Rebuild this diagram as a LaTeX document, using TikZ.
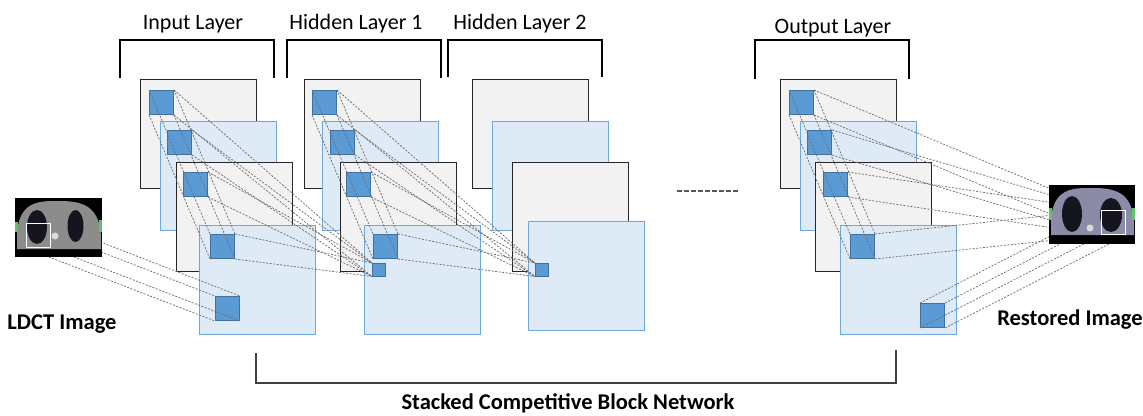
\documentclass[tikz,border=0pt]{standalone}
\usepackage{fontspec}
\setmainfont{Carlito}
\usetikzlibrary{positioning}
\definecolor{panelgray}{HTML}{F2F2F2}
\definecolor{panelblue}{HTML}{DEEBF7}
\definecolor{edgeblue}{HTML}{6FA8DC}
\definecolor{cellfill}{HTML}{5B9BD5}
\definecolor{celledge}{HTML}{41719C}
\definecolor{linkgray}{HTML}{6E6E6E}
\definecolor{ctgray}{HTML}{8C8C8C}
\definecolor{ctblue}{HTML}{8A8BA6}
\definecolor{ctlung}{HTML}{15151F}
\definecolor{ctgreen}{HTML}{5CC46A}
\pgfdeclarelayer{front}
\pgfsetlayers{main,front}
\tikzset{
  gpanel/.style={draw=black!85, line width=1.2pt, fill=panelgray, minimum width=116pt, minimum height=109pt, inner sep=0pt, anchor=north west},
  bpanel/.style={gpanel, draw=edgeblue},
  bpanel/.append style={fill=panelblue},
  cell/.style={draw=celledge, line width=1pt, fill=cellfill, minimum size=24pt, inner sep=0pt, anchor=north west},
  smallcell/.style={cell, minimum size=12.5pt},
  link/.style={draw=linkgray, line width=0.75pt, dash pattern=on 2pt off 1.5pt},
  bracket/.style={line width=2pt},
  layertext/.style={font=\fontsize{22}{26}\selectfont, anchor=base, inner sep=0pt},
  boldtext/.style={font=\fontsize{22.5}{26}\selectfont\bfseries, anchor=base, inner sep=0pt},
  scanbox/.style={draw=white, line width=1.2pt, inner sep=0pt, anchor=north west, minimum size=24pt},
}
\begin{document}
\begin{tikzpicture}[x=1pt, y=-1pt]
  \useasboundingbox (0,0) rectangle (1143,415);

  % layer titles and brackets
  \node[layertext] (in-title) at (193,29) {Input Layer};
  \node[layertext] (ha-title) at (356,29) {Hidden Layer 1};
  \node[layertext] (hb-title) at (520,29) {Hidden Layer 2};
  \node[layertext] (out-title) at (833,33) {Output Layer};
  \draw[bracket] (120,78) -- (120,40) -- (274,40) -- (274,78);
  \draw[bracket] (287,78) -- (287,40) -- (441,40) -- (441,78);
  \draw[bracket] (448,77) -- (448,40) -- (602,40) -- (602,77);
  \draw[bracket] (755,79) -- (755,40) -- (909,40) -- (909,79);

  % feature maps
  \foreach \L/\a/\b/\c/\d/\e in {in/140/160/176/199/225, ha/304/322/340/364/225, hb/472/492/512/528/221, out/780/800/815/840/225}{
    \node[gpanel] (\L-p1) at (\a,79) {};
    \node[bpanel] (\L-p2) at (\b,121) {};
    \node[gpanel] (\L-p3) at (\c,162) {};
    \node[bpanel] (\L-p4) at (\d,\e) {};
  }

  % receptive fields
  \foreach \L/\a/\b/\c/\d in {in/149/167/183/210, ha/312/330/346/373, out/789/807/823/850}{
    \node[cell] (\L-c1) at (\a,90) {};
    \node[cell] (\L-c2) at (\b,130) {};
    \node[cell] (\L-c3) at (\c,172) {};
    \node[cell] (\L-c4) at (\d,234) {};
  }
  \node[cell] (in-c5) at (215,296) {};
  \node[cell] (out-c5) at (920,303) {};
  \node[smallcell] (ha-t) at (372,263) {};
  \node[smallcell] (hb-t) at (535,263) {};

  \draw[dash pattern=on 5pt off 2pt, line width=2pt, black!65] (677,191) -- (739,191);

  % CT slices
  \begin{pgfonlayer}{front}
    \node[fill=black, minimum width=87pt, minimum height=59pt, inner sep=0pt, anchor=north west] (ldct) at (15,198) {};
    \fill[ctgray] (17,238) .. controls (17,200) and (40,201) .. (59,201) .. controls (80,201) and (101,204) .. (101,240) -- (101,249) -- (17,249) -- cycle;
    \fill[ctgreen] (15,222) rectangle (18,232);
    \fill[ctgreen] (99,220) rectangle (102,232);
    \fill[ctlung] (37,227) ellipse (10 and 17);
    \fill[ctlung] (75.5,226) ellipse (8 and 16);
    \fill[white!85!black] (55,236) circle (3.5);
    \fill[black] (15,250) rectangle (102,257);
    \node[scanbox] (ldct-box) at (26,223) {};

    \node[fill=black, minimum width=86pt, minimum height=59pt, inner sep=0pt, anchor=north west] (rest) at (1049,185) {};
    \fill[ctblue] (1051,224) .. controls (1051,187) and (1074,188) .. (1092,188) .. controls (1112,188) and (1134,190) .. (1134,226) -- (1134,235) -- (1051,235) -- cycle;
    \fill[ctgreen] (1049,208) rectangle (1052,220);
    \fill[ctgreen] (1132,208) rectangle (1135,220);
    \fill[ctlung] (1072,214) ellipse (10 and 18);
    \fill[ctlung] (1111,215) ellipse (11 and 17);
    \fill[white!85!black] (1090,228) circle (3.5);
    \fill[black] (1049,236) rectangle (1135,244);
    \node[scanbox] (rest-box) at (1101,210) {};
  \end{pgfonlayer}

  % connections
  \foreach \L in {in,ha,out}
    \foreach \k in {north west,north east,south west,south east}
      \draw[link] (\L-c1.\k) -- (\L-c4.\k);
  \foreach \i in {1,...,4}{
    \draw[link] (in-c\i.north east) -- (ha-t.north west);
    \draw[link] (in-c\i.south east) -- (ha-t.south west);
    \draw[link] (ha-c\i.north east) -- (hb-t.north west);
    \draw[link] (ha-c\i.south east) -- (hb-t.south west);
    \draw[link] (out-c\i.north east) -- (rest-box.north west);
    \draw[link] (out-c\i.south east) -- (rest-box.south west);
  }
  \foreach \k in {north west,north east,south west,south east}{
    \draw[link] (ldct-box.\k) -- (in-c5.\k);
    \draw[link] (out-c5.\k) -- (rest-box.\k);
  }

  \node[boldtext] (ldct-label) at (62,329) {LDCT Image};
  \node[boldtext] (rest-label) at (1070,325) {Restored Image};

  % network bracket
  \draw[bracket, black!75] (256,353) -- (256,383) -- (896,383) -- (896,350);
  \node[boldtext] (net-label) at (568,409) {Stacked Competitive Block Network};
\end{tikzpicture}
\end{document}
